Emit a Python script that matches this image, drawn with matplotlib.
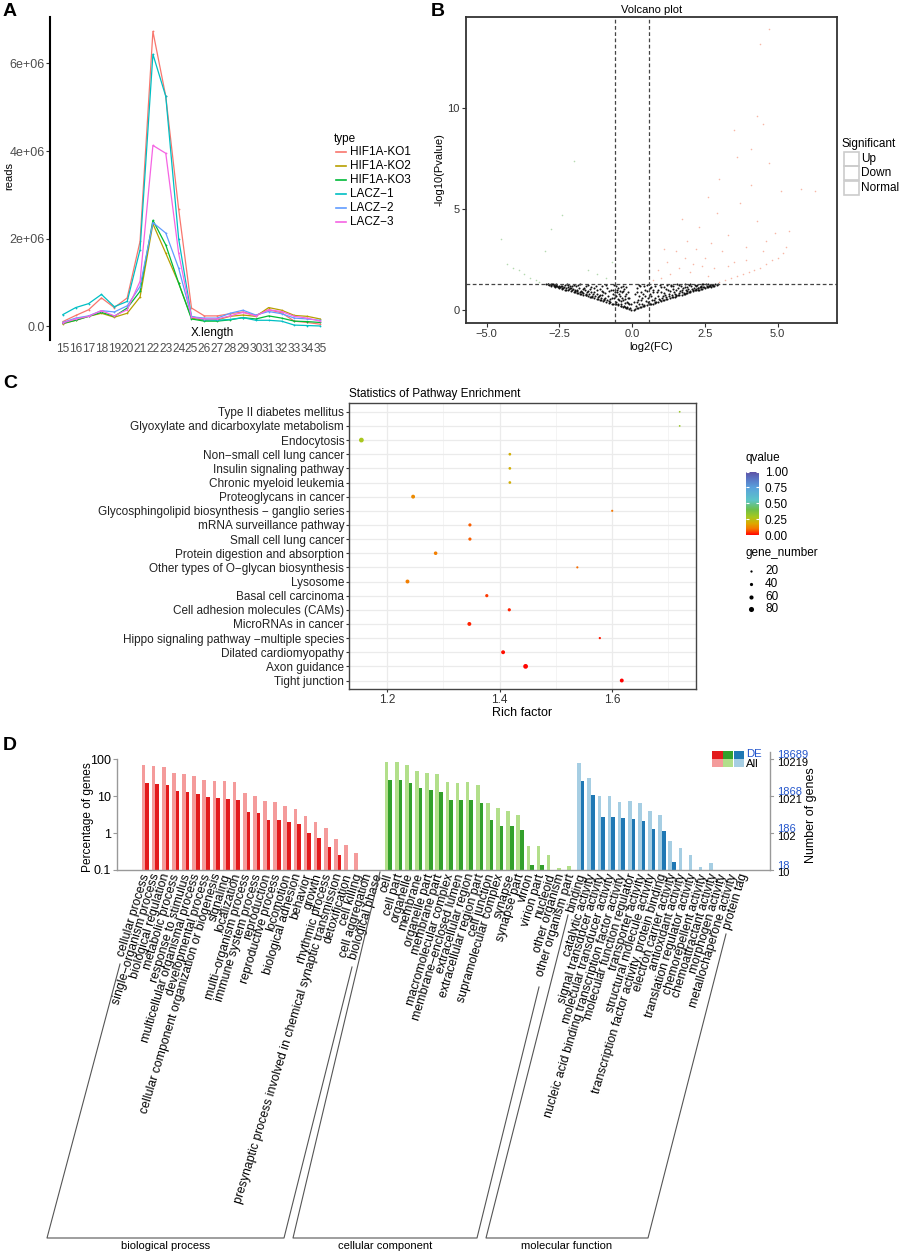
import matplotlib
matplotlib.use('Agg')
import matplotlib.pyplot as plt
from matplotlib.colors import LinearSegmentedColormap
from matplotlib.patches import Rectangle
import matplotlib.transforms as mtransforms
import matplotlib.cm as cm
from matplotlib.colors import Normalize

plt.rcParams['font.family'] = ['Liberation Sans', 'DejaVu Sans']
plt.rcParams['axes.unicode_minus'] = True

W, H = 899, 1254
fig = plt.figure(figsize=(W / 100, H / 100), dpi=100)


def rect(l, t, r, b):
    return [l / W, 1 - b / H, (r - l) / W, (b - t) / H]


# ---------------- Panel A data (reads, in millions) ----------------
lengths = list(range(15, 36))
sample_names = ['HIF1A-KO1', 'HIF1A-KO2', 'HIF1A-KO3', 'LACZ\u22121', 'LACZ\u22122', 'LACZ\u22123']
sample_colors = ['#F8766D', '#B79F00', '#00BA38', '#00BFC4', '#619CFF', '#F564E3']
reads_KO1 = [0.11, 0.25, 0.38, 0.65, 0.43, 0.65, 1.94, 6.73, 5.25, 2.68, 0.42, 0.24, 0.24, 0.29, 0.33, 0.25, 0.38, 0.31, 0.12, 0.09, 0.05]
reads_KO2 = [0.06, 0.14, 0.23, 0.30, 0.21, 0.30, 0.67, 2.34, 1.67, 0.99, 0.19, 0.14, 0.15, 0.23, 0.26, 0.23, 0.43, 0.37, 0.25, 0.23, 0.17]
reads_KO3 = [0.07, 0.14, 0.23, 0.32, 0.23, 0.42, 0.80, 2.42, 1.86, 0.99, 0.17, 0.12, 0.12, 0.15, 0.20, 0.17, 0.24, 0.19, 0.12, 0.11, 0.09]
reads_L1 = [0.27, 0.43, 0.52, 0.73, 0.45, 0.57, 1.75, 6.21, 5.25, 2.00, 0.23, 0.15, 0.14, 0.16, 0.20, 0.14, 0.14, 0.12, 0.03, 0.02, 0.01]
reads_L2 = [0.09, 0.19, 0.24, 0.36, 0.33, 0.47, 0.91, 2.37, 2.13, 1.33, 0.22, 0.19, 0.19, 0.30, 0.37, 0.26, 0.34, 0.29, 0.19, 0.17, 0.14]
reads_L3 = [0.08, 0.17, 0.23, 0.36, 0.24, 0.38, 1.03, 4.13, 3.95, 1.67, 0.21, 0.17, 0.17, 0.24, 0.32, 0.24, 0.38, 0.34, 0.23, 0.19, 0.12]
reads_all = [reads_KO1, reads_KO2, reads_KO3, reads_L1, reads_L2, reads_L3]

# ---------------- Panel B data (volcano) ----------------
normal_pts = [(-2.95, 1.28), (-2.85, 1.24), (-2.8, 1.21), (-2.75, 1.27), (-2.7, 1.18), (-2.65, 1.16), (-2.6, 1.25), (-2.55, 1.12),
              (-2.5, 1.09), (-2.45, 1.21), (-2.4, 1.05), (-2.35, 1.14), (-2.3, 1.01), (-2.25, 1.28), (-2.2, 0.97), (-2.15, 1.09),
              (-2.1, 0.93), (-2.05, 1.19), (-2.0, 0.89), (-1.95, 1.01), (-1.9, 0.84), (-1.85, 1.24), (-1.8, 0.8), (-1.75, 0.94),
              (-1.7, 0.76), (-1.65, 1.11), (-1.6, 0.72), (-1.55, 0.87), (-1.5, 0.67), (-1.45, 1.04), (-1.4, 0.63), (-1.35, 0.79),
              (-1.3, 0.59), (-1.25, 1.21), (-1.2, 0.54), (-1.15, 0.69), (-1.1, 0.5), (-1.05, 0.94), (-1.0, 0.45), (-0.95, 0.61),
              (-0.9, 0.41), (-0.85, 1.09), (-0.8, 0.36), (-0.75, 0.54), (-0.7, 0.32), (-0.65, 0.79), (-0.6, 0.28), (-0.55, 1.19),
              (-0.5, 0.23), (-0.45, 0.49), (-0.4, 0.19), (-0.35, 0.89), (-0.3, 0.14), (-0.25, 0.34), (-0.2, 0.1), (-0.15, 0.59),
              (-0.1, 0.05), (-0.05, 0.02), (-2.72, 1.29), (-2.32, 1.24), (-1.92, 1.17), (-1.62, 0.99), (-1.32, 0.89), (-1.02, 0.74),
              (-0.72, 0.99), (-0.62, 0.58), (-0.52, 0.88), (-0.47, 1.1), (-0.42, 0.69), (-0.32, 0.49), (-0.22, 0.79), (-0.12, 0.29),
              (-1.82, 1.09), (-2.02, 1.04), (-1.42, 1.14), (-1.12, 1.04), (-0.92, 0.84), (-1.22, 0.79), (-0.82, 0.69), (-0.63, 1.25),
              (-2.52, 1.19), (-2.22, 1.14), (-1.72, 0.89), (-1.52, 1.25), (-1.02, 1.2), (-0.37, 0.29), (-0.27, 1.04), (-0.17, 0.14),
              (-0.57, 0.4), (-0.48, 0.3), (-0.38, 0.45), (-0.28, 0.2), (-0.18, 0.4), (-0.08, 0.1), (-0.58, 0.75), (-0.43, 0.95),
              (-0.33, 1.2), (-0.23, 0.55), (-0.13, 0.9), (-0.53, 1.0), (-0.78, 0.45), (-0.88, 0.5), (-0.98, 0.55), (-1.08, 0.6),
              (-1.18, 0.65), (-1.28, 0.7), (-1.38, 0.7), (-1.48, 0.78), (-1.58, 0.8), (-1.68, 0.85), (-1.78, 0.88), (-1.88, 0.92),
              (-1.98, 0.96), (-2.08, 1.0), (-2.18, 1.03), (-2.28, 1.07), (-2.38, 1.1), (-2.48, 1.15), (-2.58, 1.17), (-2.68, 1.22),
              (-2.78, 1.24), (-2.88, 1.27),
              (0.05, 0.02), (0.1, 0.05), (0.15, 0.4), (0.2, 0.1), (0.25, 0.7), (0.3, 0.14), (0.35, 0.3), (0.4, 0.19), (0.45, 1.0),
              (0.5, 0.23), (0.55, 0.6), (0.6, 0.28), (0.65, 1.15), (0.7, 0.32), (0.75, 0.5), (0.8, 0.36), (0.85, 0.9), (0.9, 0.41),
              (0.95, 1.22), (1.0, 0.45), (1.05, 0.7), (1.1, 0.5), (1.15, 1.05), (1.2, 0.54), (1.25, 0.8), (1.3, 0.59), (1.35, 1.18),
              (1.4, 0.63), (1.45, 0.9), (1.5, 0.67), (1.55, 1.27), (1.6, 0.72), (1.65, 0.95), (1.7, 0.76), (1.75, 1.1), (1.8, 0.8),
              (1.85, 1.0), (1.9, 0.84), (1.95, 1.22), (2.0, 0.89), (2.05, 1.05), (2.1, 0.93), (2.15, 1.26), (2.2, 0.97), (2.25, 1.1),
              (2.3, 1.01), (2.35, 1.2), (2.4, 1.05), (2.45, 1.15), (2.5, 1.09), (2.55, 1.27), (2.6, 1.12), (2.65, 1.2), (2.7, 1.16),
              (2.75, 1.25), (2.8, 1.2), (2.85, 1.28), (2.9, 1.24), (2.95, 1.28), (0.12, 0.2), (0.18, 0.9), (0.22, 0.3), (0.28, 1.2),
              (0.32, 0.5), (0.38, 0.8), (0.42, 0.25), (0.48, 0.45), (0.52, 1.25), (0.58, 0.35), (0.62, 0.8), (0.68, 0.5), (0.72, 1.0),
              (0.78, 0.6), (0.82, 0.42), (0.88, 0.7), (0.92, 0.55), (0.98, 0.9), (1.02, 0.6), (1.08, 1.15), (1.12, 0.75), (1.18, 0.62),
              (1.22, 1.0), (1.28, 0.7), (1.32, 1.25), (1.38, 0.75), (1.42, 1.05), (1.48, 0.8), (1.52, 0.72), (1.58, 1.1), (1.62, 0.85),
              (1.68, 1.2), (1.72, 0.9), (1.78, 0.85), (1.82, 1.15), (1.88, 0.95), (1.92, 1.05), (1.98, 0.95), (2.02, 1.18), (2.08, 1.0),
              (2.12, 1.1), (2.18, 1.05), (2.22, 1.25), (2.28, 1.08), (2.32, 1.15), (2.38, 1.12), (2.42, 1.28), (2.48, 1.14), (2.58, 1.2),
              (2.68, 1.23), (2.78, 1.26)]
normal_pts_extra = [(-2.9, 1.3), (-2.62, 1.19), (-2.42, 1.08), (-2.12, 1.2), (-1.97, 0.88), (-1.77, 0.81), (-1.57, 0.73),
                    (-1.37, 0.66), (-1.17, 0.56), (-0.97, 0.47), (-0.77, 0.38), (-0.57, 0.3), (-0.37, 0.2), (-0.17, 0.09),
                    (-0.65, 1.0), (-0.6, 0.9), (-0.55, 0.7), (-0.5, 0.55), (-0.45, 0.8), (-0.4, 1.15), (-0.35, 0.6),
                    (-0.3, 0.95), (-0.25, 0.7), (-0.2, 1.15), (-0.15, 0.35), (-0.1, 0.6), (-0.05, 0.3), (-0.7, 0.6),
                    (-0.8, 0.95), (-0.9, 1.25), (-1.0, 0.9), (-1.1, 0.75), (-1.2, 1.0), (-1.3, 1.1), (-1.4, 0.9),
                    (-1.5, 0.95), (-1.6, 1.2), (-1.7, 1.05), (-1.8, 1.3), (-1.9, 1.0), (-2.0, 1.25), (-2.1, 1.1),
                    (-2.2, 1.25), (-2.4, 1.2), (-2.6, 1.3), (-2.8, 1.3), (-1.06, 0.49), (-1.46, 0.66), (-1.86, 0.83),
                    (-2.26, 1.0), (-2.66, 1.17), (-0.66, 0.3), (-0.26, 0.13),
                    (0.17, 0.09), (0.37, 0.2), (0.57, 0.3), (0.77, 0.38), (0.97, 0.47), (1.17, 0.56), (1.37, 0.66),
                    (1.57, 0.73), (1.77, 0.81), (1.97, 0.88), (2.17, 0.99), (2.37, 1.04), (2.57, 1.13), (2.77, 1.2),
                    (0.05, 0.4), (0.1, 0.8), (0.15, 1.1), (0.2, 0.5), (0.25, 1.25), (0.3, 0.9), (0.35, 0.6), (0.4, 1.2),
                    (0.45, 0.7), (0.5, 0.95), (0.55, 0.4), (0.6, 1.1), (0.65, 0.7), (0.7, 0.9), (0.8, 1.2), (0.9, 1.0),
                    (1.0, 1.15), (1.1, 0.85), (1.2, 1.25), (1.3, 0.95), (1.4, 1.2), (1.5, 1.0), (1.6, 1.25), (1.7, 1.0),
                    (1.8, 1.28), (1.9, 1.15), (2.0, 1.3), (2.2, 1.2), (2.4, 1.27), (2.6, 1.28), (0.26, 0.13), (0.66, 0.3),
                    (1.06, 0.49), (1.46, 0.66), (1.86, 0.83), (2.26, 1.0), (2.66, 1.17)]
up_pts = [(0.7, 1.5), (0.9, 2.0), (1.0, 1.6), (1.2, 2.4), (1.3, 1.8), (1.5, 2.9), (1.6, 2.1), (1.8, 2.6), (1.9, 3.4), (2.0, 1.9),
          (2.1, 2.3), (2.2, 3.0), (2.3, 4.1), (2.4, 2.2), (2.5, 2.6), (2.6, 1.7), (2.7, 3.3), (2.8, 2.1), (2.9, 4.8), (3.0, 1.4),
          (3.1, 2.9), (3.2, 1.5), (3.3, 3.7), (3.4, 1.6), (3.5, 2.4), (3.6, 1.7), (3.7, 5.3), (3.8, 1.8), (3.9, 3.1), (4.0, 1.9),
          (4.1, 6.2), (4.2, 2.0), (4.3, 4.4), (4.4, 2.1), (4.5, 2.9), (4.6, 2.3), (4.7, 7.3), (4.8, 2.5), (4.9, 3.8), (5.0, 2.6),
          (5.1, 5.9), (5.2, 2.8), (5.3, 3.1), (5.4, 3.9), (4.5, 9.2), (4.4, 13.2), (4.7, 13.9), (3.5, 8.9), (4.1, 8.0), (5.8, 6.0),
          (6.3, 5.9), (3.0, 6.5), (2.6, 5.6), (3.6, 7.6), (1.1, 3.0), (1.7, 4.5), (4.3, 9.6), (3.3, 2.2), (3.9, 2.5), (4.6, 3.4)]
down_pts = [(-4.3, 2.3), (-4.1, 2.1), (-3.9, 2.0), (-3.7, 1.8), (-3.5, 1.6), (-3.3, 1.5), (-3.2, 1.4), (-4.5, 3.5), (-3.0, 2.9),
            (-2.4, 4.7), (-1.5, 2.0), (-2.0, 7.4), (-1.2, 1.8), (-0.9, 1.6), (-2.8, 4.0), (-0.7, 2.4)]

# ---------------- Panel C data (KEGG enrichment) ----------------
pathways = ['Type II diabetes mellitus', 'Glyoxylate and dicarboxylate metabolism', 'Endocytosis',
            'Non\u2212small cell lung cancer', 'Insulin signaling pathway', 'Chronic myeloid leukemia',
            'Proteoglycans in cancer', 'Glycosphingolipid biosynthesis \u2212 ganglio series', 'mRNA surveillance pathway',
            'Small cell lung cancer', 'Protein digestion and absorption', 'Other types of O\u2212glycan biosynthesis',
            'Lysosome', 'Basal cell carcinoma', 'Cell adhesion molecules (CAMs)', 'MicroRNAs in cancer',
            'Hippo signaling pathway \u2212multiple species', 'Dilated cardiomyopathy', 'Axon guidance', 'Tight junction']
rich_factor = [1.720, 1.720, 1.154, 1.418, 1.418, 1.418, 1.246, 1.600, 1.347, 1.347, 1.286, 1.538, 1.236, 1.377, 1.417,
               1.346, 1.578, 1.406, 1.446, 1.617]
qvalue = [0.31, 0.31, 0.28, 0.20, 0.20, 0.20, 0.13, 0.10, 0.08, 0.08, 0.11, 0.09, 0.11, 0.05, 0.03, 0.03, 0.02, 0.012,
          0.006, 0.003]
gene_number = [10, 10, 73, 30, 30, 30, 55, 18, 40, 40, 48, 18, 55, 40, 40, 55, 20, 55, 73, 55]
gene_legend = [20, 40, 60, 80]

# ---------------- Panel D data (GO) ----------------
bp_terms = ['cellular process', 'single\u2212organism process', 'biological regulation', 'metabolic process',
            'response to stimulus', 'multicellular organismal process', 'developmental process',
            'cellular component organization or biogenesis', 'signaling', 'localization', 'multi\u2212organism process',
            'immune system process', 'reproduction', 'reproductive process', 'locomotion', 'biological adhesion',
            'behavior', 'growth', 'rhythmic process', 'presynaptic process involved in chemical synaptic transmission',
            'detoxification', 'cell killing', 'cell aggregation', 'biological phase']
bp_all = [70, 64, 61, 43, 40, 35, 27, 26, 26, 24, 12.5, 10.3, 7.2, 7.1, 5.3, 4.5, 2.9, 2.0, 1.4, 0.68, 0.47, 0.28, None, None]
bp_de = [23.3, 21, 20.5, 14.1, 13, 11.2, 9.7, 9.1, 8.6, 8.0, 3.8, 3.4, 2.2, 2.2, 1.95, 1.73, 0.98, 0.72, 0.41, 0.26, None, None, None, None]
cc_terms = ['cell', 'cell part', 'organelle', 'membrane', 'organelle part', 'membrane part', 'macromolecular complex',
            'membrane\u2212enclosed lumen', 'extracellular region', 'extracellular region part', 'cell junction',
            'supramolecular complex', 'synapse', 'synapse part', 'virion', 'virion part', 'nucleoid', 'other organism',
            'other organism part']
cc_all = [86, 86, 68, 48, 42, 41, 24, 23.2, 24, 20, 6.4, 4.7, 4.06, 3.15, 0.46, 0.46, 0.255, 0.113, 0.128]
cc_de = [27.5, 27.5, 22.5, 16.8, 14.5, 13.1, 8.1, 7.9, 7.9, 6.7, 2.25, 1.55, 1.55, 1.2, 0.134, 0.134, None, None, None]
mf_terms = ['binding', 'catalytic activity', 'signal transducer activity', 'molecular transducer activity',
            'nucleic acid binding transcription factor activity', 'molecular function regulator', 'transporter activity',
            'structural molecule activity', 'transcription factor activity, protein binding', 'electron carrier activity',
            'antioxidant activity', 'translation regulator activity', 'chemorepellent activity', 'chemoattractant activity',
            'morphogen activity', 'metallochaperone activity', 'protein tag']
mf_all = [77.8, 31.8, 10.3, 10.1, 7.0, 7.25, 6.7, 3.98, 3.03, 0.6, 0.40, 0.26, 0.118, 0.158, None, None, None]
mf_de = [25.8, 10.8, 2.79, 2.68, 2.57, 2.47, 2.18, 1.27, 1.14, 0.168, None, None, None, None, None, None, None]
right_all_labels = ['18', '186', '1868', '18689']
right_de_labels = ['10', '102', '1021', '10219']

# =================== Panel A ===================
axA = fig.add_axes(rect(50, 17, 333, 340))
for vals, name, col in zip(reads_all, sample_names, sample_colors):
    axA.plot(lengths, [v * 1e6 for v in vals], color=col, lw=0.9, marker='o', ms=1.3, mew=0)
axA.set_xlim(14, 36)
axA.set_ylim(-0.31e6, 7.06e6)
axA.set_yticks([0, 2e6, 4e6, 6e6])
axA.set_yticklabels(['0.0', '2e+06', '4e+06', '6e+06'], fontsize=9, color='#4D4D4D')
axA.set_xticks(lengths)
axA.set_xticklabels([str(v) for v in lengths], fontsize=8.6, color='#4D4D4D')
axA.tick_params(axis='x', length=0, pad=2)
axA.tick_params(axis='y', length=3, width=0.8, color='#333333', pad=1)
for s in ['top', 'right', 'bottom']:
    axA.spines[s].set_visible(False)
axA.spines['left'].set_linewidth(1.5)
axA.spines['left'].set_color('black')

# =================== Panel B ===================
axB = fig.add_axes(rect(465.7, 17.3, 837, 322.7))
nx = [p[0] for p in normal_pts + normal_pts_extra]
ny = [p[1] for p in normal_pts + normal_pts_extra]
axB.scatter(nx, ny, s=2.2, c='#111111', linewidths=0)
axB.scatter([p[0] for p in up_pts], [p[1] for p in up_pts], s=1.3, c='#F7B7A6', linewidths=0)
axB.scatter([p[0] for p in down_pts], [p[1] for p in down_pts], s=1.3, c='#B5D9B0', linewidths=0)
axB.axvline(-0.585, color='#444444', lw=0.9, ls=(0, (3, 2)))
axB.axvline(0.585, color='#444444', lw=0.9, ls=(0, (3, 2)))
axB.axhline(1.301, color='#444444', lw=0.9, ls=(0, (3, 2)))
axB.set_xlim(-5.72, 7.04)
axB.set_ylim(-0.63, 14.5)
axB.set_xticks([-5, -2.5, 0, 2.5, 5])
axB.set_xticklabels(['\u22125.0', '\u22122.5', '0.0', '2.5', '5.0'], fontsize=8, color='#333333')
axB.set_yticks([0, 5, 10])
axB.set_yticklabels(['0', '5', '10'], fontsize=8, color='#333333')
axB.tick_params(length=3, width=0.8, color='#333333', pad=1.5)
for s in axB.spines.values():
    s.set_linewidth(1.3)
    s.set_color('#333333')
axB.set_xlabel('log2(FC)', fontsize=8, labelpad=2)
axB.set_ylabel('-log10(Pvalue)', fontsize=8, labelpad=2)
axB.set_title('Volcano plot', fontsize=8, pad=3)

# =================== Panel C ===================
q_cmap = LinearSegmentedColormap.from_list('q', [
    (0.0, '#FF0000'), (0.04, '#FF3000'), (0.10, '#F57800'), (0.18, '#DDA800'), (0.28, '#A8C81E'),
    (0.40, '#6CBF4A'), (0.55, '#5CC5C8'), (0.75, '#5AA0DC'), (0.90, '#5A70C0'), (1.0, '#5E4FA2')])


def dot_size(g):
    d_px = 1.3 + 3.8 * g / 80.0
    return (d_px * 0.72) ** 2


axC = fig.add_axes(rect(349, 403.3, 696, 689))
n = len(pathways)
ypos = [n - 1 - i for i in range(n)]
axC.scatter(rich_factor, ypos, s=[dot_size(g) for g in gene_number], c=qvalue, cmap=q_cmap, vmin=0, vmax=1,
            linewidths=0, zorder=3)
axC.set_xlim(1.132, 1.749)
axC.set_ylim(-0.6, n - 0.4)
axC.set_yticks(ypos)
axC.set_yticklabels(pathways, fontsize=8.5, color='#222222')
axC.set_xticks([1.2, 1.4, 1.6])
axC.set_xticklabels(['1.2', '1.4', '1.6'], fontsize=8.5, color='#333333')
axC.set_xticks([1.3, 1.5, 1.7], minor=True)
axC.grid(True, which='major', color='#EBEBEB', lw=0.9)
axC.grid(True, which='minor', axis='x', color='#F2F2F2', lw=0.6)
axC.tick_params(which='major', length=2, width=0.8, color='#333333', pad=1.5)
axC.tick_params(which='minor', length=0)
axC.set_axisbelow(True)
for s in axC.spines.values():
    s.set_linewidth(1.0)
    s.set_color('#444444')
axC.set_xlabel('Rich factor', fontsize=9, labelpad=1)

# colorbar
cax = fig.add_axes(rect(745.7, 471.5, 759, 535))
cb = fig.colorbar(cm.ScalarMappable(norm=Normalize(0, 1), cmap=q_cmap), cax=cax)
cb.outline.set_visible(False)
cb.set_ticks([0, 0.25, 0.5, 0.75, 1.0])
cb.set_ticklabels(['0.00', '0.25', '0.50', '0.75', '1.00'])
cax.tick_params(axis='y', direction='in', colors='white', length=2.5, width=0.8, labelcolor='black', labelsize=8.5,
                left=True, right=True, pad=4)

# =================== Panel D ===================
dpal = {'BP': ('#F49B9B', '#E31A1C'), 'CC': ('#B2DF8A', '#33A02C'), 'MF': ('#A6CEE3', '#1F78B4')}
all_terms = bp_terms + cc_terms + mf_terms
groups = [('BP', bp_all, bp_de), ('CC', cc_all, cc_de), ('MF', mf_all, mf_de)]
axD = fig.add_axes(rect(116.7, 759.3, 770, 870))
axD.set_yscale('log')
axD.set_ylim(0.1, 100)
axD.set_xlim(-2.82, 61.67)
start = 0
bw = 0.356
for key, va, vd in groups:
    light, dark = dpal[key]
    for j, (a, d) in enumerate(zip(va, vd)):
        i = start + j
        if a is not None:
            axD.bar(i - 0.178, a - 0.1, bottom=0.1, width=bw, color=light, linewidth=0)
        if d is not None:
            axD.bar(i + 0.178, d - 0.1, bottom=0.1, width=bw, color=dark, linewidth=0)
    start += len(va)
axD.set_xticks([])
axD.set_yticks([0.1, 1, 10, 100])
axD.set_yticklabels(['0.1', '1', '10', '100'], fontsize=9)
axD.minorticks_off()
axD.tick_params(axis='y', length=3, width=0.8, color='#999999', pad=1)
for s in ['top', 'right']:
    axD.spines[s].set_visible(False)
for s in ['left', 'bottom']:
    axD.spines[s].set_color('#999999')
    axD.spines[s].set_linewidth(1.0)
lab_tr = mtransforms.offset_copy(axD.transData, fig=fig, x=1, y=-4, units='dots')
for i, t in enumerate(all_terms):
    axD.text(i, 0.1, t, transform=lab_tr, rotation=73, rotation_mode='anchor', ha='right', va='center',
             fontsize=8.8, clip_on=False)

# =================== overlay for decorations ===================
ov = fig.add_axes([0, 0, 1, 1])
ov.set_xlim(0, W)
ov.set_ylim(H, 0)
ov.axis('off')

# panel letters
for letter, (x, y) in zip('ABCD', [(10, 12), (438, 11), (10, 383), (10, 745)]):
    ov.text(x, y, letter, fontsize=14, fontweight='bold', ha='center', va='center')

# Panel A extras
ov.text(9, 176, 'reads', fontsize=8, rotation=90, ha='center', va='center')
ov.text(212, 333, 'X.length', fontsize=8.5, ha='center', va='center')
ov.text(334, 139, 'type', fontsize=8.5, ha='left', va='center')
for k, (name, col) in enumerate(zip(sample_names, sample_colors)):
    yy = 152.3 + k * 13.9
    ov.plot([336, 346], [yy, yy], color=col, lw=1.2)
    ov.text(350, yy, name, fontsize=8.5, ha='left', va='center')

# Panel B legend
ov.text(841, 144, 'Significant', fontsize=8.5, ha='left', va='center')
for k, name in enumerate(['Up', 'Down', 'Normal']):
    y0 = 151.7 + k * 14.4
    ov.add_patch(Rectangle((844.3, y0), 14.5, 14.4, fill=False, edgecolor='#CCCCCC', lw=1.2))
    ov.text(861.5, y0 + 7.2, name, fontsize=8.5, ha='left', va='center')

# Panel C title and size legend
ov.text(349, 394, 'Statistics of Pathway Enrichment', fontsize=8.5, ha='left', va='center')
ov.text(745.7, 458, 'qvalue', fontsize=8.5, ha='left', va='center')
ov.text(745.7, 552.7, 'gene_number', fontsize=8.5, ha='left', va='center')
for k, g in enumerate(gene_legend):
    yy = 570.7 + k * 12.9
    ov.scatter([750.7], [yy], s=dot_size(g), c='black', linewidths=0)
    ov.text(765, yy, str(g), fontsize=8.5, ha='left', va='center')

# Panel D axis titles and right axis
ov.text(88, 817, 'Percentage of genes', fontsize=8.6, rotation=90, ha='center', va='center')
ov.plot([770, 770], [752, 870], color='#999999', lw=1.0)
for k, (la, ld) in enumerate(zip(right_all_labels, right_de_labels)):
    yt = 870 - k * 36.9
    ov.plot([770, 773], [yt, yt], color='#999999', lw=0.8)
    ov.text(777.5, yt - 4, la, fontsize=8, color='#2255CC', ha='left', va='center')
    ov.text(777.5, yt + 3.5, ld, fontsize=8, color='black', ha='left', va='center')
ov.text(811, 815, 'Number of genes', fontsize=9, rotation=90, ha='center', va='center')

# Panel D legend
for k, key in enumerate(['BP', 'CC', 'MF']):
    light, dark = dpal[key]
    x0 = 712.3 + k * 10.7
    ov.add_patch(Rectangle((x0, 750.7), 10.2, 8.6, color=dark, lw=0))
    ov.add_patch(Rectangle((x0, 759.3), 10.2, 8.0, color=light, lw=0))
ov.text(746, 754, 'DE', fontsize=8.2, color='#2255CC', ha='left', va='center')
ov.text(746, 764, 'All', fontsize=8.2, color='black', ha='left', va='center')

# Panel D group brackets
brackets = [
    ('biological process', (120, 964), (47, 1238), (352, 967), (284, 1238)),
    ('cellular component', (380, 872), (293, 1238), (539, 987), (477, 1238)),
    ('molecular function', (568, 915), (486, 1238), (726, 934), (648, 1238)),
]
for name, lt, lb, rt, rb in brackets:
    ov.plot([lt[0], lb[0], rb[0], rt[0]], [lt[1], lb[1], rb[1], rt[1]], color='#555555', lw=0.8)
    ov.text((lb[0] + rb[0]) / 2, 1246, name, fontsize=8, ha='center', va='center')

fig.savefig('out.png', dpi=100)
